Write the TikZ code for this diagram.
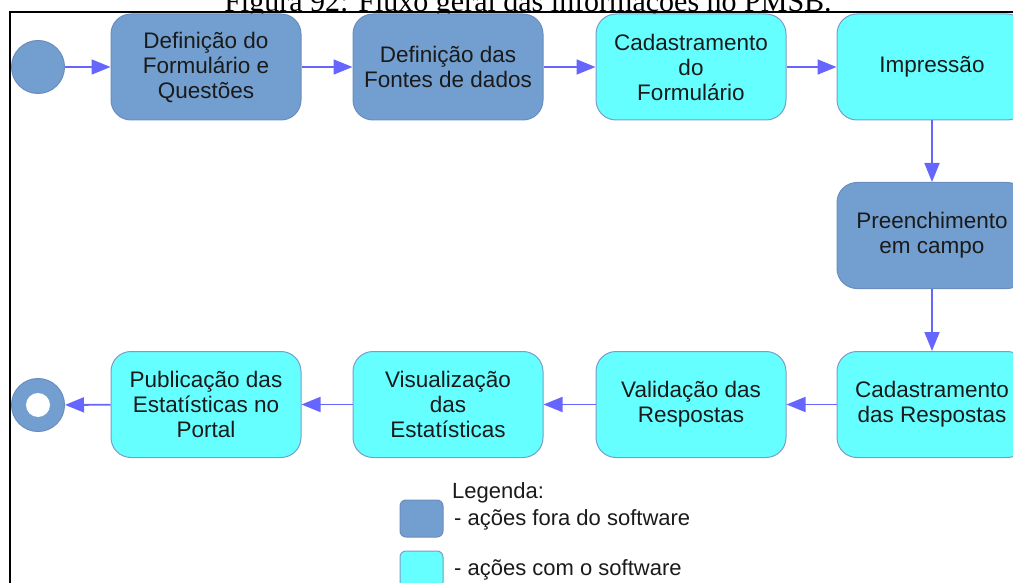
\documentclass[tikz,border=0pt]{standalone}
\usepackage{fontspec}
\setmainfont{Liberation Sans}
\newfontfamily\capfont{Liberation Serif}
\usetikzlibrary{arrows.meta}
\definecolor{darkfill}{HTML}{729FCF}
\definecolor{darkline}{HTML}{6A8DBF}
\definecolor{lightfill}{HTML}{66FFFF}
\definecolor{lightline}{HTML}{7A9CC8}
\definecolor{arrowc}{HTML}{6666FF}
\definecolor{txt}{HTML}{1A1A1A}
\tikzset{
  actbox/.style={rounded corners=20pt, minimum width=190pt, minimum height=106pt, line width=1pt,
    align=center, text=txt, font=\fontsize{22.5}{25}\selectfont, inner sep=0pt},
  outbox/.style={actbox, fill=darkfill, draw=darkline},
  inbox/.style={actbox, fill=lightfill, draw=lightline},
  flow/.style={draw=arrowc, line width=1.8pt, -{Triangle[length=19pt,width=15pt]}},
  legbox/.style={rounded corners=6pt, minimum width=43pt, minimum height=37pt, line width=1pt, inner sep=0pt},
  legtxt/.style={anchor=west, text=txt, font=\fontsize{22}{25}\selectfont, inner sep=0pt}
}
\begin{document}
\begin{tikzpicture}[x=1pt,y=-1pt]
\useasboundingbox (0,0) rectangle (1013,583);
\clip (0,0) rectangle (1013,583);
% caption
\node[font=\capfont\fontsize{30}{30}\selectfont, anchor=base, inner sep=0pt] (cap) at (528,12) {Figura 92: Fluxo geral das informações no PMSB.};
% frame
\draw[line width=2.5pt] (10,1000) -- (10,12) -- (1100,12);
% start
\node[circle, fill=darkfill, draw=darkline, line width=1pt, minimum size=53pt, inner sep=0pt] (start) at (38,67) {};
% row 1
\node[outbox] (b1) at (206,67) {Definição do\\Formulário e\\Questões};
\node[outbox] (b2) at (448,67) {Definição das\\Fontes de dados};
\node[inbox] (b3) at (691,67) {Cadastramento\\do\\Formulário};
\node[inbox] (b4) at (932,67) {Impressão};
% col
\node[outbox] (b5) at (932,235.5) {Preenchimento\\em campo};
% row 3
\node[inbox] (b6) at (932,404.5) {Cadastramento\\das Respostas};
\node[inbox] (b7) at (691,404.5) {Validação das\\Respostas};
\node[inbox] (b8) at (448,404.5) {Visualização\\das\\Estatísticas};
\node[inbox] (b9) at (206,404.5) {Publicação das\\Estatísticas no\\Portal};
% end
\node[circle, fill=darkfill, draw=darkline, line width=1pt, minimum size=53pt, inner sep=0pt] (endc) at (38,405) {};
\node[circle, fill=white, minimum size=24pt, inner sep=0pt] (endin) at (endc.center) {};
% arrows
\draw[flow] (start) -- (b1);
\draw[flow] (b1) -- (b2);
\draw[flow] (b2) -- (b3);
\draw[flow] (b3) -- (b4);
\draw[flow] (b4) -- (b5);
\draw[flow] (b5) -- (b6);
\draw[flow] (b6) -- (b7);
\draw[flow] (b7) -- (b8);
\draw[flow] (b8) -- (b9);
\draw[flow] (b9) -- (endc);
% legend
\node[legtxt] (lg) at (452,493) {Legenda:};
\node[legbox, fill=darkfill, draw=darkline] (l1) at (421.5,518.5) {};
\node[legtxt] (lt1) at (454,520) {- ações fora do software};
\node[legbox, fill=lightfill, draw=lightline] (l2) at (421.5,569.5) {};
\node[legtxt] (lt2) at (454,570) {- ações com o software};
\end{tikzpicture}
\end{document}
